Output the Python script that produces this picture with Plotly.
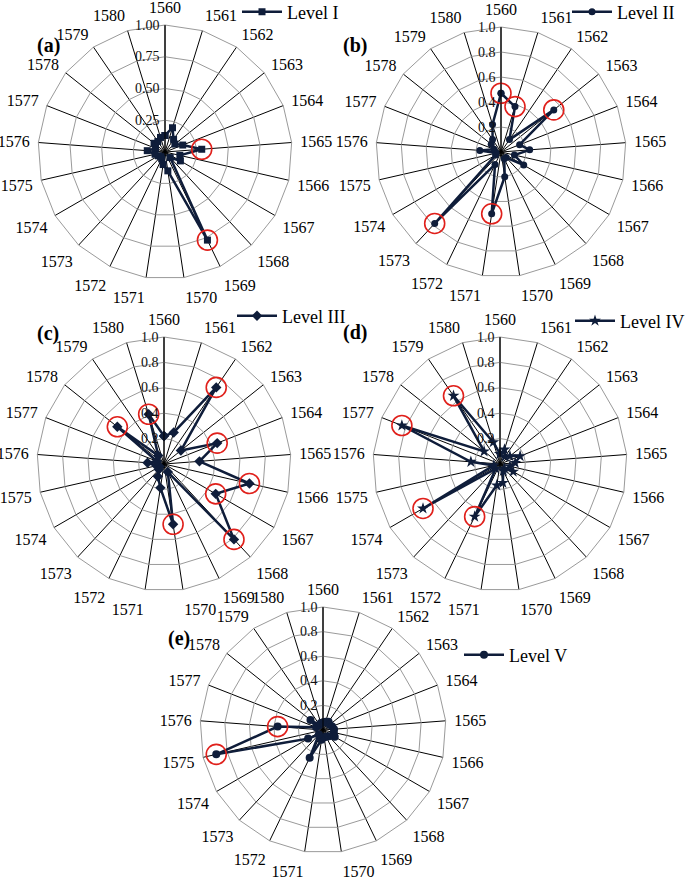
import plotly.graph_objects as go

W, H = 685, 882

years = [str(y) for y in range(1560, 1581)]

level_1 = [0.13, 0.20, 0.12, 0.10, 0.15, 0.29, 0.12, 0.14, 0.06, 0.77, 0.15,
           0.10, 0.06, 0.05, 0.06, 0.08, 0.14, 0.08, 0.11, 0.10, 0.12]
level_2 = [0.47, 0.38, 0.12, 0.54, 0.16, 0.23, 0.11, 0.21, 0.06, 0.06, 0.20,
           0.50, 0.11, 0.78, 0.05, 0.04, 0.17, 0.06, 0.10, 0.12, 0.23]
level_3 = [0.22, 0.26, 0.73, 0.17, 0.45, 0.28, 0.69, 0.47, 0.81, 0.07, 0.48,
           0.19, 0.11, 0.06, 0.04, 0.06, 0.13, 0.06, 0.47, 0.08, 0.41]
level_4 = [0.08, 0.12, 0.07, 0.10, 0.17, 0.12, 0.08, 0.12, 0.05, 0.06, 0.15,
           0.17, 0.46, 0.05, 0.70, 0.05, 0.23, 0.83, 0.16, 0.65, 0.18]
level_5 = [0.06, 0.07, 0.08, 0.07, 0.08, 0.09, 0.09, 0.11, 0.07, 0.06, 0.06,
           0.08, 0.25, 0.05, 0.14, 0.89, 0.37, 0.06, 0.13, 0.05, 0.06]

highlight_1 = ["1565", "1569"]
highlight_2 = ["1560", "1561", "1563", "1571", "1573"]
highlight_3 = ["1562", "1564", "1566", "1567", "1568", "1570", "1578", "1580"]
highlight_4 = ["1572", "1574", "1577", "1579"]
highlight_5 = ["1575", "1576"]

series_names = ["Level I", "Level II", "Level III", "Level IV", "Level V"]
panel_tags = ["(a)", "(b)", "(c)", "(d)", "(e)"]

series = [level_1, level_2, level_3, level_4, level_5]
highlights = [highlight_1, highlight_2, highlight_3, highlight_4, highlight_5]
symbols = ["square", "circle", "diamond", "star", "circle"]
sizes = [7, 7, 8, 9, 8]

# layout geometry (pixels): centre x, centre y, radius
geo = [(165, 152, 127), (501, 152, 125), (164, 464, 127), (500, 464, 127), (323, 730, 123)]
legend_pos = [(237, 12), (567, 12), (232, 316), (570, 321), (459, 655)]
tag_pos = [(35, 32), (355, 32), (35, 333), (355, 332), (166, 652)]

NAVY = "#0f1d3a"
RED = "#e0201b"
SERIF = "Liberation Serif"

fig = go.Figure()

for i in range(5):
    pid = "polar" if i == 0 else f"polar{i+1}"
    lid = "legend" if i == 0 else f"legend{i+1}"
    vals = series[i]
    fig.add_trace(go.Scatterpolar(
        r=vals + [vals[0]], theta=years + [years[0]],
        mode="lines+markers", name=series_names[i],
        line=dict(color=NAVY, width=2.5),
        marker=dict(symbol=symbols[i], size=sizes[i], color=NAVY),
        subplot=pid, legend=lid, showlegend=True,
    ))
    hr = [vals[years.index(y)] for y in highlights[i]]
    fig.add_trace(go.Scatterpolar(
        r=hr, theta=highlights[i], mode="markers",
        marker=dict(symbol="circle-open", size=20, color=RED, line=dict(width=1.6, color=RED)),
        subplot=pid, showlegend=False, hoverinfo="skip",
    ))

    cx, cy, rr = geo[i]
    if i == 0:
        tv = [0.25, 0.5, 0.75, 1.0]
        tt = ["0.25", "0.50", "0.75", "1.00"]
    else:
        tv = [0.2, 0.4, 0.6, 0.8, 1.0]
        tt = ["0.2", "0.4", "0.6", "0.8", "1.0"]
    fig.layout[pid] = dict(
        domain=dict(x=[(cx - rr) / W, (cx + rr) / W], y=[1 - (cy + rr) / H, 1 - (cy - rr) / H]),
        gridshape="linear",
        bgcolor="white",
        radialaxis=dict(range=[0, 1], tickvals=tv, ticktext=tt, angle=90, side="counterclockwise",
                        tickangle=90,
                        showline=True, linecolor="black", linewidth=1,
                        gridcolor="#9a9a9a", gridwidth=1, ticks="",
                        tickfont=dict(family=SERIF, size=14, color="#111111")),
        angularaxis=dict(type="category", categoryarray=years, direction="clockwise", rotation=90,
                         gridcolor="black", gridwidth=1, linecolor="#9a9a9a", linewidth=1,
                         ticks="outside", ticklen=5, tickcolor="rgba(0,0,0,0)",
                         tickfont=dict(family=SERIF, size=16, color="black")),
    )
    lx, ly = legend_pos[i]
    fig.layout[lid] = dict(
        x=lx / W, y=1 - ly / H, xanchor="left", yanchor="middle",
        bgcolor="rgba(0,0,0,0)", itemwidth=40,
        font=dict(family=SERIF, size=18, color="black"),
    )
    tx, ty = tag_pos[i]
    fig.add_annotation(x=tx / W, y=1 - ty / H, xref="paper", yref="paper", text=f"<b>{panel_tags[i]}</b>",
                       showarrow=False, font=dict(family=SERIF, size=20, color="black"))

fig.update_layout(
    width=W, height=H, margin=dict(l=0, r=0, t=0, b=0, autoexpand=False),
    paper_bgcolor="white", plot_bgcolor="white",
)

fig.write_html("out.html", config={"displayModeBar": False},
               post_script="document.body.style.margin='0';document.body.style.padding='0';")
